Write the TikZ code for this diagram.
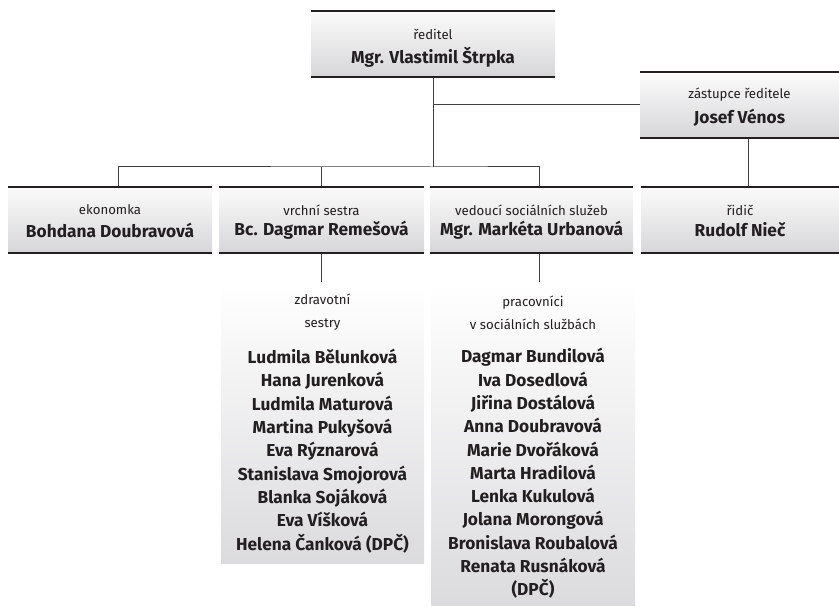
\documentclass[tikz,border=0pt]{standalone}
\usepackage{fontspec}
\setmainfont{Fira Sans}
\newlength{\du}
\setlength{\du}{1pt}
\definecolor{inkcolor}{rgb}{0.137,0.122,0.125}
\definecolor{linkcolor}{rgb}{0.25,0.25,0.25}
\definecolor{boxtop}{rgb}{0.985,0.985,0.985}
\definecolor{boxbottom}{rgb}{0.84,0.84,0.85}
\definecolor{listtop}{rgb}{1.0,1.0,1.0}
\definecolor{listbottom}{rgb}{0.86,0.86,0.87}
\tikzset{
	headbox/.style={rectangle, inner sep=0pt, minimum height=66\du, top color=boxtop, bottom color=boxbottom},
	listbox/.style={rectangle, inner sep=0pt, top color=listtop, bottom color=listbottom},
	roletext/.style={inner sep=0pt, text=inkcolor, align=center, font=\fontsize{13.2}{23}\selectfont},
	nametext/.style={inner sep=0pt, text=inkcolor, align=center, font=\bfseries\fontsize{17.3}{23.3}\selectfont},
	rule/.style={draw=inkcolor, line width=2\du},
	link/.style={draw=linkcolor, line width=1\du},
}
\begin{document}
\begin{tikzpicture}
	\pgftransformxscale{1.000000}
	\pgftransformyscale{-1.000000}
	\useasboundingbox (0\du,0\du) rectangle (839\du,607\du);
	% boxes
	\node[headbox, minimum width=244\du] (dir) at (433\du,44\du){};
	\node[headbox, minimum width=199\du] (dep) at (739.5\du,105\du){};
	\node[headbox, minimum width=204\du] (eko) at (110\du,220\du){};
	\node[headbox, minimum width=205\du] (vrs) at (321.5\du,220\du){};
	\node[headbox, minimum width=203\du] (ved) at (531.5\du,220\du){};
	\node[headbox, minimum width=198\du] (rid) at (740\du,220\du){};
	\node[listbox, minimum width=203\du, minimum height=281\du] (ses) at (322.5\du,422.5\du){};
	\node[listbox, minimum width=204\du, minimum height=323\du] (pra) at (533\du,443.5\du){};
	% connectors
	\coordinate (bus) at (433\du,167\du);
	\draw[link] (dir.south) -- (bus);
	\draw[link] (dir.south |- dep.west) -- (dep.west);
	\draw[link] ([xshift=8\du]eko.north) |- (bus) -| ([xshift=7.5\du]ved.north);
	\draw[link] (vrs.north) -- (vrs.north |- bus);
	\draw[link] ([xshift=8.5\du]dep.south) -- ([xshift=8\du]rid.north);
	\draw[link] (vrs.south) -- (vrs.south |- ses.north);
	\draw[link] ([xshift=7.5\du]ved.south) -- ([xshift=7.5\du]ved.south |- pra.north);
	% rules above and below the head boxes
	\draw[rule] (dir.north west) -- (dir.north east);
	\draw[rule] (dir.south west) -- (dir.south east);
	\draw[rule] (dep.north west) -- (dep.north east);
	\draw[rule] (dep.south west) -- (dep.south east);
	\draw[rule] (eko.north west) -- (eko.north east);
	\draw[rule] (eko.south west) -- (eko.south east);
	\draw[rule] (vrs.north west) -- (vrs.north east);
	\draw[rule] (vrs.south west) -- (vrs.south east);
	\draw[rule] (ved.north west) -- (ved.north east);
	\draw[rule] (ved.south west) -- (ved.south east);
	\draw[rule] (rid.north west) -- (rid.north east);
	\draw[rule] (rid.south west) -- (rid.south east);
	% texts
	\node[roletext] (dirRole) at (433\du,34\du){ředitel};
	\node[nametext] (dirName) at (433\du,57\du){Mgr. Vlastimil Štrpka};
	\node[roletext] (depRole) at (739.5\du,95\du){zástupce ředitele};
	\node[nametext] (depName) at (739.5\du,118\du){Josef Vénos};
	\node[roletext] (ekoRole) at (110\du,210\du){ekonomka};
	\node[nametext] (ekoName) at (110\du,230\du){Bohdana Doubravová};
	\node[roletext] (vrsRole) at (321.5\du,210\du){vrchní sestra};
	\node[nametext] (vrsName) at (321.5\du,230\du){Bc. Dagmar Remešová};
	\node[roletext] (vedRole) at (531.5\du,210\du){vedoucí sociálních služeb};
	\node[nametext] (vedName) at (531.5\du,230\du){Mgr. Markéta Urbanová};
	\node[roletext] (ridRole) at (740\du,210\du){řidič};
	\node[nametext] (ridName) at (740\du,230\du){Rudolf Nieč};
	\node[roletext] (sesRole) at (322.5\du,312.5\du){zdravotní\\sestry};
	\node[nametext] (sesList) at (322.5\du,451\du){Ludmila Bělunková\\Hana Jurenková\\Ludmila Maturová\\Martina Pukyšová\\Eva Rýznarová\\Stanislava Smojorová\\Blanka Sojáková\\Eva Víšková\\Helena Čanková (DPČ)};
	\node[roletext] (praRole) at (533\du,312.5\du){pracovníci\\v sociálních službách};
	\node[nametext] (praList) at (533\du,473.5\du){Dagmar Bundilová\\Iva Dosedlová\\Jiřina Dostálová\\Anna Doubravová\\Marie Dvořáková\\Marta Hradilová\\Lenka Kukulová\\Jolana Morongová\\Bronislava Roubalová\\Renata Rusnáková\\(DPČ)};
\end{tikzpicture}
\end{document}
